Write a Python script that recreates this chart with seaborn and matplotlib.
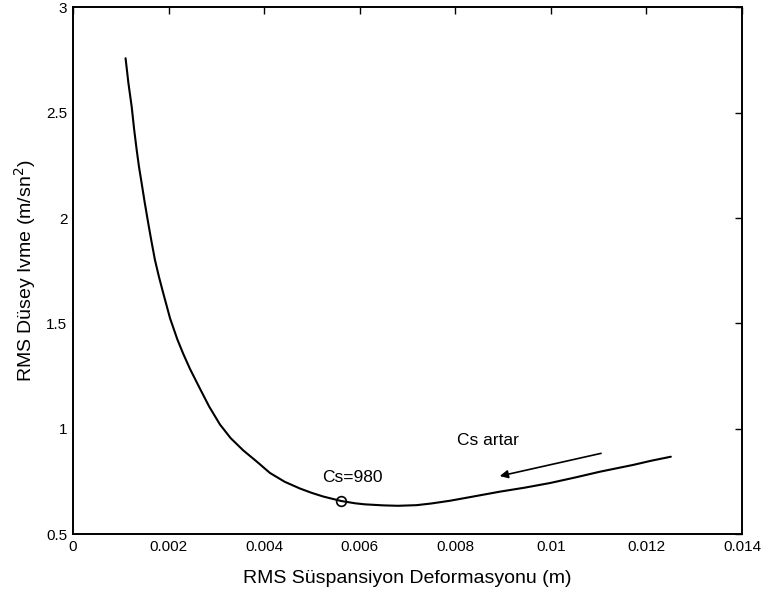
import matplotlib
matplotlib.use("Agg")
import matplotlib.pyplot as plt
import seaborn as sns
import pandas as pd

# Curve: RMS suspension deformation (mm -> m) vs RMS vertical acceleration (m/s^2)
defo_mm = [1.10, 1.16, 1.228, 1.28, 1.333, 1.38, 1.437, 1.50, 1.575, 1.64,
           1.715, 1.80, 1.889, 2.03, 2.182, 2.308, 2.45, 2.657, 2.85, 3.075,
           3.30, 3.563, 3.85, 4.121, 4.43, 4.749, 5.00, 5.236, 5.607, 5.90,
           6.10, 6.49, 6.80, 7.19, 7.50, 7.89, 8.40, 8.93, 9.45, 9.98,
           10.50, 11.03, 11.72, 12.10, 12.51]
accel = [2.759, 2.640, 2.529, 2.420, 2.323, 2.245, 2.165, 2.075, 1.975, 1.892,
         1.801, 1.720, 1.643, 1.525, 1.425, 1.355, 1.283, 1.190, 1.105, 1.020,
         0.955, 0.897, 0.843, 0.790, 0.748, 0.716, 0.695, 0.678, 0.657, 0.646,
         0.641, 0.636, 0.634, 0.637, 0.645, 0.658, 0.679, 0.701, 0.720, 0.742,
         0.768, 0.796, 0.828, 0.848, 0.867]
defo = [v * 1e-3 for v in defo_mm]

mark_x = [0.00561]
mark_y = [0.657]

xticks = [0, 0.002, 0.004, 0.006, 0.008, 0.01, 0.012, 0.014]
xtick_labels = ["0", "0.002", "0.004", "0.006", "0.008", "0.01", "0.012", "0.014"]
yticks = [0.5, 1, 1.5, 2, 2.5, 3]
ytick_labels = ["0.5", "1", "1.5", "2", "2.5", "3"]

sns.set_theme(style="white")
plt.rcParams['font.family'] = ['Liberation Sans', 'DejaVu Sans']

df = pd.DataFrame({"x": defo, "y": accel})

fig = plt.figure(figsize=(7.62, 5.98), dpi=100)
ax = fig.add_axes([0.0958, 0.107, 0.878, 0.8805])

sns.lineplot(data=df, x="x", y="y", sort=False, color="black", linewidth=1.5, ax=ax)
ax.plot(mark_x, mark_y, marker="o", markersize=7, markerfacecolor="none",
        markeredgecolor="black", markeredgewidth=1.2, linestyle="none")

ax.set_xlim(0, 0.014)
ax.set_ylim(0.5, 3)
ax.set_xticks(xticks)
ax.set_xticklabels(xtick_labels)
ax.set_yticks(yticks)
ax.set_yticklabels(ytick_labels)
ax.tick_params(direction="in", length=5, width=1, top=True, right=True,
               labelsize=11, colors="black", pad=4)
for s in ax.spines.values():
    s.set_color("black")
    s.set_linewidth(1.4)
    s.set_visible(True)

ax.set_xlabel("RMS Süspansiyon Deformasyonu (m)", fontsize=14, color="black", labelpad=12)
ax.set_ylabel("RMS Düsey Ivme (m/sn$^2$)", fontsize=14, color="black", labelpad=6)

ax.text(0.00522, 0.77, "Cs=980", fontsize=12.5, ha="left", va="center", color="black")
ax.text(0.00803, 0.946, "Cs artar", fontsize=12.5, ha="left", va="center", color="black")
ax.annotate("", xy=(0.00893, 0.775), xytext=(0.01105, 0.883),
            arrowprops=dict(arrowstyle="-|>", color="black", lw=1.2,
                            mutation_scale=12, shrinkA=0, shrinkB=0))

fig.savefig("out.png", dpi=100)
